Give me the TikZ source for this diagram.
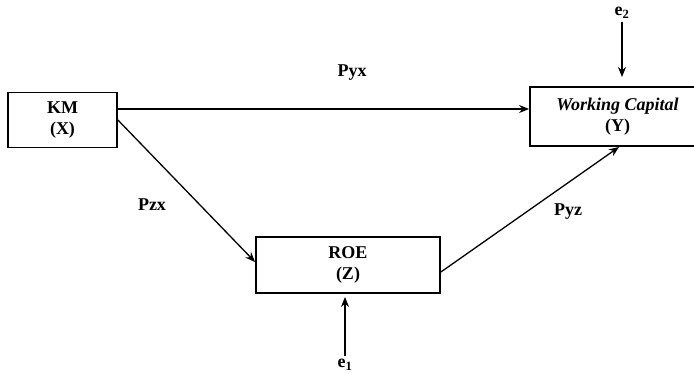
\documentclass[tikz,border=0pt]{standalone}
\usepackage{fontspec}
\setmainfont{Liberation Serif}
\newfontfamily\wcfont{Liberation Serif}[UprightFont={* Bold Italic}]
\usetikzlibrary{arrows.meta}
\begin{document}
\begin{tikzpicture}[x=1pt,y=-1pt,
  box/.style={draw, line width=1.8pt, inner sep=0pt, align=center, font=\bfseries\fontsize{18}{21}\selectfont},
  arr/.style={line width=1.3pt, -{Stealth[length=10pt,width=8pt]}},
  lbl/.style={font=\bfseries\fontsize{18}{21}\selectfont}]
\useasboundingbox (0,0) rectangle (694,374);
\node[box, minimum width=109pt, minimum height=55pt] (km) at (62.5,120) {KM\\(X)};
\node[box, minimum width=175pt, minimum height=59pt] (wc) at (617.5,116.5) {{\wcfont\fontsize{18}{21}\selectfont Working Capital}\\(Y)};
\node[box, minimum width=184pt, minimum height=56pt] (roe) at (348,265) {ROE\\(Z)};
\node[lbl] (e2) at (622,13) {e\textsubscript{2}};
\node[lbl] (e1) at (345,365) {e\textsubscript{1}};
\coordinate (e2t) at (622,77);
\coordinate (e1t) at (345,297);
\node[lbl] (pyx) at (352,73) {Pyx};
\node[lbl] (pzx) at (152,205) {Pzx};
\node[lbl] (pyz) at (568,212) {Pyz};
\draw[arr] (km.east |- 0,109) -- (wc.west |- 0,109);
\draw[arr] (km.east |- 0,120) -- (roe.west |- 0,262);
\draw[arr] (roe.east |- 0,272) -- (619,147);
\draw[arr] (e2) -- (e2t);
\draw[arr] (e1) -- (e1t);
\end{tikzpicture}
\end{document}
